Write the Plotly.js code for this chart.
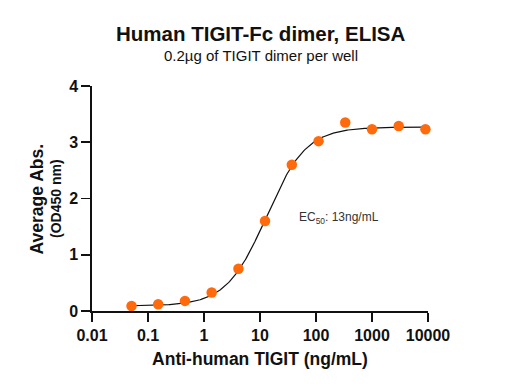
<!DOCTYPE html>
<html>
<head>
<meta charset="utf-8">
<script src="https://cdn.plot.ly/plotly-3.0.1.min.js"></script>
<style>html,body{margin:0;padding:0;background:#fff;}#chart{width:507px;height:388px;}</style>
</head>
<body>
<div id="chart"></div>
<script>
// Measured data (ng/mL, OD450)
const concentrations = [0.0508, 0.152, 0.457, 1.37, 4.12, 12.3, 37.0, 111, 333, 1000, 3000, 9000];
const absorbance = [0.09, 0.12, 0.18, 0.33, 0.75, 1.60, 2.60, 3.02, 3.35, 3.23, 3.29, 3.23];
// 4PL fit parameters of the drawn curve
const fitBottom = 0.09;
const fitTop = 3.27;
const fitEC50 = 13;
const fitHill = 1.22;
const xTickVals = [0.01, 0.1, 1, 10, 100, 1000, 10000];
const xTickText = ["0.01", "0.1", "1", "10", "100", "1000", "10000"];
const yTickVals = [0, 1, 2, 3, 4];

const curveX = [], curveY = [];
const lx0 = Math.log10(concentrations[0]), lx1 = Math.log10(concentrations[concentrations.length - 1]);
for (let i = 0; i <= 300; i++) {
  const x = Math.pow(10, lx0 + (lx1 - lx0) * i / 300);
  curveX.push(x);
  curveY.push(fitBottom + (fitTop - fitBottom) / (1 + Math.pow(fitEC50 / x, fitHill)));
}

const W = 507, H = 388;
const M = {l: 92, r: 79, t: 86, b: 77};
const PW = W - M.l - M.r, PH = H - M.t - M.b;
// pixel -> paper coordinates helpers for text placement
const px = v => (v - M.l) / PW;
const py = v => (H - M.b - v) / PH;

const font = "'Liberation Sans', Arial, sans-serif";
const ink = '#111';
const traces = [
  {x: curveX, y: curveY, mode: 'lines', line: {color: ink, width: 1.2}, hoverinfo: 'skip', cliponaxis: false},
  {x: concentrations, y: absorbance, mode: 'markers', marker: {color: '#FF6A0D', size: 10.5}, cliponaxis: false}
];
const layout = {
  width: W, height: H,
  margin: M,
  paper_bgcolor: '#fff', plot_bgcolor: '#fff',
  showlegend: false,
  font: {family: font, color: ink},
  xaxis: {
    type: 'log', range: [-2, 4], tickvals: xTickVals, ticktext: xTickText,
    showgrid: false, zeroline: false, showline: true, linecolor: ink, linewidth: 1.6,
    ticks: 'outside', ticklen: 9, tickwidth: 1.6, tickcolor: ink,
    tickfont: {size: 16, weight: 'bold', color: ink},
    title: {text: 'Anti-human TIGIT (ng/mL)', font: {size: 17.5, weight: 'bold', color: ink}, standoff: 10}
  },
  yaxis: {
    range: [0, 4], tickvals: yTickVals,
    showgrid: false, zeroline: false, showline: true, linecolor: ink, linewidth: 1.6,
    ticks: 'outside', ticklen: 9, tickwidth: 1.6, tickcolor: ink,
    tickfont: {size: 16, weight: 'bold', color: ink}
  },
  annotations: [
    {xref: 'paper', yref: 'paper', x: px(260.5), y: py(33.5), text: 'Human TIGIT-Fc dimer, ELISA', showarrow: false,
     font: {size: 20.5, weight: 'bold', color: ink}, xanchor: 'center', yanchor: 'middle'},
    {xref: 'paper', yref: 'paper', x: px(260.5), y: py(55), text: '0.2µg of TIGIT dimer per well', showarrow: false,
     font: {size: 15, color: ink}, xanchor: 'center', yanchor: 'middle'},
    {xref: 'paper', yref: 'paper', x: px(36.5), y: py(199), text: 'Average Abs.', textangle: -90, showarrow: false,
     font: {size: 17.5, weight: 'bold', color: ink}, xanchor: 'center', yanchor: 'middle'},
    {xref: 'paper', yref: 'paper', x: px(56), y: py(199), text: '(OD450 nm)', textangle: -90, showarrow: false,
     font: {size: 14, weight: 'bold', color: ink}, xanchor: 'center', yanchor: 'middle'},
    {xref: 'x', yref: 'y', x: Math.log10(46), y: 1.65, text: 'EC<sub>50</sub>: 13ng/mL', showarrow: false,
     font: {size: 12, color: '#333'}, xanchor: 'left', yanchor: 'middle'}
  ]
};
Plotly.newPlot('chart', traces, layout, {displayModeBar: false, staticPlot: true});
</script>
</body>
</html>
